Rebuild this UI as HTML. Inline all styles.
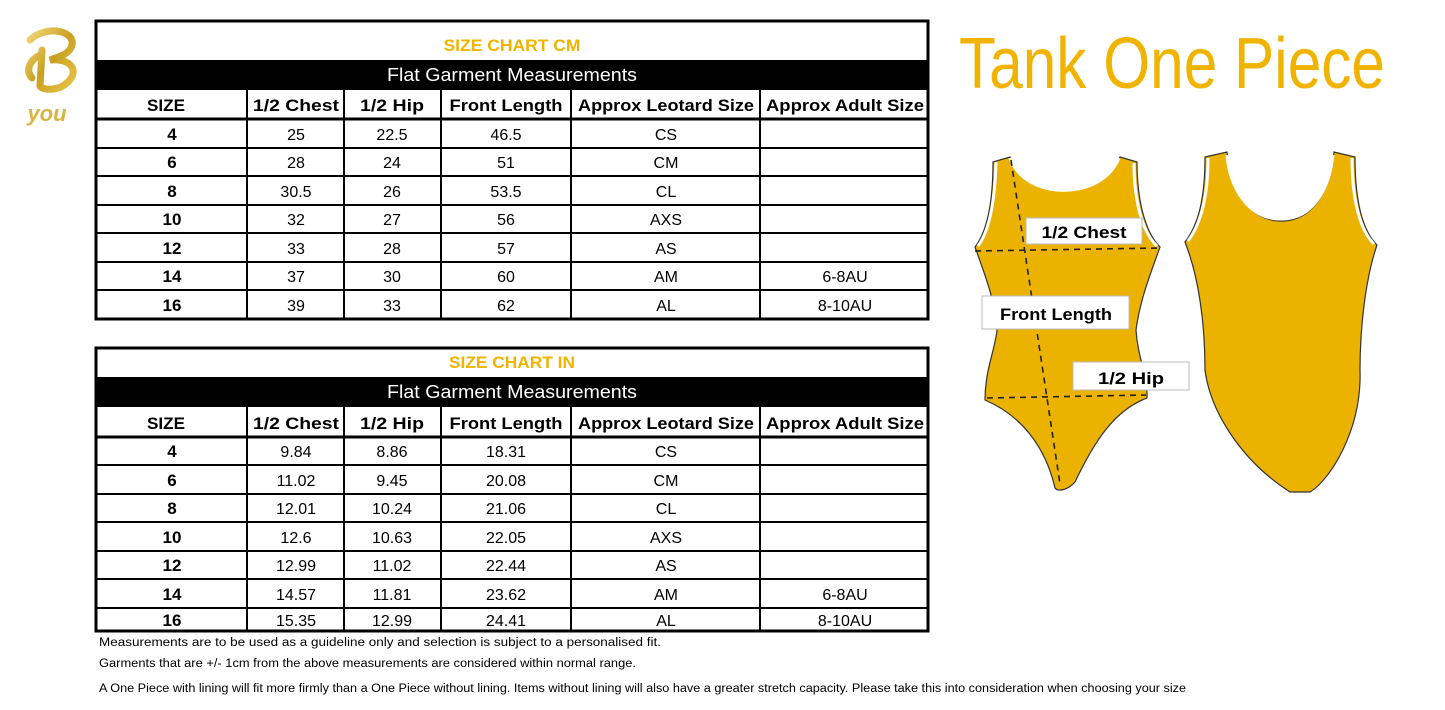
<!DOCTYPE html>
<html><head><meta charset="utf-8"><style>
html,body{margin:0;padding:0;background:#fff;width:1445px;height:710px;overflow:hidden}
svg{display:block}
text{font-family:"Liberation Sans",sans-serif}
.h{font-weight:bold;font-size:17px;text-anchor:middle}
.d{font-size:16px;text-anchor:middle}
.b{font-weight:bold;font-size:17px;text-anchor:middle}
</style></head><body>
<svg width="1445" height="710" viewBox="0 0 1445 710" xmlns="http://www.w3.org/2000/svg">
<defs><linearGradient id="g" x1="0" y1="0" x2="1" y2="1"><stop offset="0" stop-color="#f3d77a"/><stop offset=".5" stop-color="#c9a020"/><stop offset="1" stop-color="#e8c44a"/></linearGradient></defs>
<!-- logo -->
<path d="M30 40 C45 25 75 30 72 45 C70 55 55 58 50 60 C70 58 80 70 68 82 C58 92 42 90 40 86 L42 50 M40 55 C30 60 25 70 32 78" fill="none" stroke="url(#g)" stroke-width="7" stroke-linecap="round"/>
<text x="47" y="121" font-size="22" font-weight="bold" fill="#d8b440" text-anchor="middle" font-style="italic">you</text>

<!-- TABLE 1 -->
<g>
<rect x="96" y="21" width="832" height="298" fill="#fff" stroke="#000" stroke-width="3"/>
<rect x="96" y="60" width="832" height="30" fill="#000"/>
<text x="512" y="51" font-size="17" font-weight="bold" fill="#f0b400" text-anchor="middle" textLength="137" lengthAdjust="spacingAndGlyphs">SIZE CHART CM</text>
<text x="512" y="81" font-size="18" fill="#fff" text-anchor="middle" textLength="250" lengthAdjust="spacingAndGlyphs">Flat Garment Measurements</text>
<g stroke="#000" stroke-width="2">
<line x1="96" y1="119" x2="928" y2="119" stroke-width="3"/>
<line x1="96" y1="148" x2="928" y2="148"/><line x1="96" y1="176" x2="928" y2="176"/><line x1="96" y1="205" x2="928" y2="205"/><line x1="96" y1="233" x2="928" y2="233"/><line x1="96" y1="262" x2="928" y2="262"/><line x1="96" y1="290" x2="928" y2="290"/>
<line x1="247" y1="90" x2="247" y2="319"/><line x1="344" y1="90" x2="344" y2="319"/><line x1="441" y1="90" x2="441" y2="319"/><line x1="571" y1="90" x2="571" y2="319"/><line x1="760" y1="90" x2="760" y2="319"/>
</g>
<g class="h">
<text x="166" y="111" class="h" textLength="38" lengthAdjust="spacingAndGlyphs">SIZE</text>
<text x="296" y="111" class="h" textLength="86" lengthAdjust="spacingAndGlyphs">1/2 Chest</text>
<text x="392" y="111" class="h" textLength="64" lengthAdjust="spacingAndGlyphs">1/2 Hip</text>
<text x="506" y="111" class="h" textLength="113" lengthAdjust="spacingAndGlyphs">Front Length</text>
<text x="666" y="111" class="h" textLength="176" lengthAdjust="spacingAndGlyphs">Approx Leotard Size</text>
<text x="845" y="111" class="h" textLength="158" lengthAdjust="spacingAndGlyphs">Approx Adult Size</text>
</g>
<g>
<text x="172" y="140" class="b">4</text><text x="296" y="140" class="d">25</text><text x="392" y="140" class="d">22.5</text><text x="506" y="140" class="d">46.5</text><text x="666" y="140" class="d">CS</text>
<text x="172" y="168" class="b">6</text><text x="296" y="168" class="d">28</text><text x="392" y="168" class="d">24</text><text x="506" y="168" class="d">51</text><text x="666" y="168" class="d">CM</text>
<text x="172" y="197" class="b">8</text><text x="296" y="197" class="d">30.5</text><text x="392" y="197" class="d">26</text><text x="506" y="197" class="d">53.5</text><text x="666" y="197" class="d">CL</text>
<text x="172" y="225" class="b">10</text><text x="296" y="225" class="d">32</text><text x="392" y="225" class="d">27</text><text x="506" y="225" class="d">56</text><text x="666" y="225" class="d">AXS</text>
<text x="172" y="254" class="b">12</text><text x="296" y="254" class="d">33</text><text x="392" y="254" class="d">28</text><text x="506" y="254" class="d">57</text><text x="666" y="254" class="d">AS</text>
<text x="172" y="282" class="b">14</text><text x="296" y="282" class="d">37</text><text x="392" y="282" class="d">30</text><text x="506" y="282" class="d">60</text><text x="666" y="282" class="d">AM</text><text x="845" y="282" class="d">6-8AU</text>
<text x="172" y="311" class="b">16</text><text x="296" y="311" class="d">39</text><text x="392" y="311" class="d">33</text><text x="506" y="311" class="d">62</text><text x="666" y="311" class="d">AL</text><text x="845" y="311" class="d">8-10AU</text>
</g>
</g>

<!-- TABLE 2 -->
<g>
<rect x="96" y="348" width="832" height="283" fill="#fff" stroke="#000" stroke-width="3"/>
<rect x="96" y="377" width="832" height="30" fill="#000"/>
<text x="512" y="368" font-size="17" font-weight="bold" fill="#f0b400" text-anchor="middle" textLength="126" lengthAdjust="spacingAndGlyphs">SIZE CHART IN</text>
<text x="512" y="398" font-size="18" fill="#fff" text-anchor="middle" textLength="250" lengthAdjust="spacingAndGlyphs">Flat Garment Measurements</text>
<g stroke="#000" stroke-width="2">
<line x1="96" y1="437" x2="928" y2="437" stroke-width="3"/>
<line x1="96" y1="465" x2="928" y2="465"/><line x1="96" y1="494" x2="928" y2="494"/><line x1="96" y1="522" x2="928" y2="522"/><line x1="96" y1="551" x2="928" y2="551"/><line x1="96" y1="579" x2="928" y2="579"/><line x1="96" y1="608" x2="928" y2="608"/>
<line x1="247" y1="407" x2="247" y2="631"/><line x1="344" y1="407" x2="344" y2="631"/><line x1="441" y1="407" x2="441" y2="631"/><line x1="571" y1="407" x2="571" y2="631"/><line x1="760" y1="407" x2="760" y2="631"/>
</g>
<text x="166" y="429" class="h" textLength="38" lengthAdjust="spacingAndGlyphs">SIZE</text>
<text x="296" y="429" class="h" textLength="86" lengthAdjust="spacingAndGlyphs">1/2 Chest</text>
<text x="392" y="429" class="h" textLength="64" lengthAdjust="spacingAndGlyphs">1/2 Hip</text>
<text x="506" y="429" class="h" textLength="113" lengthAdjust="spacingAndGlyphs">Front Length</text>
<text x="666" y="429" class="h" textLength="176" lengthAdjust="spacingAndGlyphs">Approx Leotard Size</text>
<text x="845" y="429" class="h" textLength="158" lengthAdjust="spacingAndGlyphs">Approx Adult Size</text>
<text x="172" y="457" class="b">4</text><text x="296" y="457" class="d">9.84</text><text x="392" y="457" class="d">8.86</text><text x="506" y="457" class="d">18.31</text><text x="666" y="457" class="d">CS</text>
<text x="172" y="486" class="b">6</text><text x="296" y="486" class="d">11.02</text><text x="392" y="486" class="d">9.45</text><text x="506" y="486" class="d">20.08</text><text x="666" y="486" class="d">CM</text>
<text x="172" y="514" class="b">8</text><text x="296" y="514" class="d">12.01</text><text x="392" y="514" class="d">10.24</text><text x="506" y="514" class="d">21.06</text><text x="666" y="514" class="d">CL</text>
<text x="172" y="543" class="b">10</text><text x="296" y="543" class="d">12.6</text><text x="392" y="543" class="d">10.63</text><text x="506" y="543" class="d">22.05</text><text x="666" y="543" class="d">AXS</text>
<text x="172" y="571" class="b">12</text><text x="296" y="571" class="d">12.99</text><text x="392" y="571" class="d">11.02</text><text x="506" y="571" class="d">22.44</text><text x="666" y="571" class="d">AS</text>
<text x="172" y="600" class="b">14</text><text x="296" y="600" class="d">14.57</text><text x="392" y="600" class="d">11.81</text><text x="506" y="600" class="d">23.62</text><text x="666" y="600" class="d">AM</text><text x="845" y="600" class="d">6-8AU</text>
<text x="172" y="626" class="b">16</text><text x="296" y="626" class="d">15.35</text><text x="392" y="626" class="d">12.99</text><text x="506" y="626" class="d">24.41</text><text x="666" y="626" class="d">AL</text><text x="845" y="626" class="d">8-10AU</text>
</g>

<!-- footnotes -->
<text x="99" y="646" font-size="11.5" textLength="562" lengthAdjust="spacingAndGlyphs">Measurements are to be used as a guideline only and selection is subject to a personalised fit.</text>
<text x="99" y="667" font-size="11.5" textLength="537" lengthAdjust="spacingAndGlyphs">Garments that are  +/-  1cm from the above measurements are considered within normal range.</text>
<text x="99" y="692" font-size="11.5" textLength="1087" lengthAdjust="spacingAndGlyphs">A One Piece with lining will fit more firmly than a One Piece without lining.  Items without lining will also have a greater stretch capacity. Please take this into consideration when choosing your size</text>

<!-- title -->
<text x="1172" y="88" font-size="72" fill="#f0b400" text-anchor="middle" textLength="426" lengthAdjust="spacingAndGlyphs" font-family="Liberation Sans Narrow, Liberation Sans, sans-serif">Tank One Piece</text>

<!-- front leotard -->
<path d="M993 162 L1010 157 C1020 185 1050 192 1070 190 C1095 188 1112 175 1120 157 L1137 162 C1137 200 1145 232 1160 247 C1150 275 1140 300 1136 330 C1138 360 1148 375 1147 398 C1115 410 1095 440 1075 482 C1068 490 1058 492 1055 488 C1045 445 1020 415 985 400 C985 370 995 350 997 330 C995 300 985 275 975 247 C988 230 993 200 993 162 Z" fill="#ebb300" stroke="#333" stroke-width="1.2"/>
<path d="M996 162 C995 200 990 230 978 246 M1010 158 C1020 185 1050 192 1070 190 C1095 188 1112 175 1119 158 M1134 163 C1134 200 1142 232 1157 246" fill="none" stroke="#fff" stroke-width="3"/>
<g stroke="#222" stroke-width="1.6" stroke-dasharray="6,5" fill="none">
<line x1="1011" y1="160" x2="1060" y2="484"/>
<line x1="975" y1="251" x2="1160" y2="248"/>
<line x1="987" y1="398" x2="1146" y2="395"/>
</g>
<rect x="1026" y="218" width="116" height="26" fill="#fff" stroke="#bbb"/>
<text x="1084" y="238" font-size="17" font-weight="bold" text-anchor="middle" textLength="85" lengthAdjust="spacingAndGlyphs">1/2 Chest</text>
<rect x="982" y="296" width="147" height="33" fill="#fff" stroke="#bbb"/>
<text x="1056" y="320" font-size="17" font-weight="bold" text-anchor="middle" textLength="112" lengthAdjust="spacingAndGlyphs">Front Length</text>
<rect x="1073" y="362" width="116" height="28" fill="#fff" stroke="#bbb"/>
<text x="1131" y="384" font-size="17" font-weight="bold" text-anchor="middle" textLength="66" lengthAdjust="spacingAndGlyphs">1/2 Hip</text>

<!-- back leotard -->
<path d="M1205 157 L1227 152 C1230 190 1250 220 1280 221 C1315 222 1332 185 1334 152 L1355 157 C1355 200 1362 230 1377 245 C1365 280 1360 330 1360 370 C1362 430 1330 480 1310 492 L1290 492 C1240 460 1210 410 1205 370 C1205 320 1198 275 1185 242 C1198 225 1205 200 1205 157 Z" fill="#ebb300" stroke="#333" stroke-width="1.2"/>
<path d="M1208 158 C1208 200 1200 225 1188 241 M1227 155 C1230 190 1250 219 1280 219 C1315 220 1330 185 1333 155 M1352 158 C1352 200 1360 230 1374 244" fill="none" stroke="#fff" stroke-width="3"/>
</svg>
</body></html>
